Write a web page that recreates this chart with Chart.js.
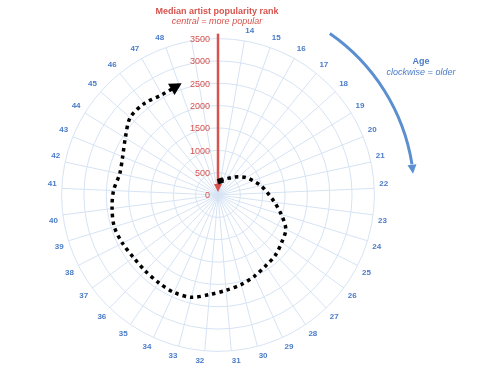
<!DOCTYPE html>
<html>
<head>
<meta charset="utf-8">
<script src="https://cdn.jsdelivr.net/npm/chart.js@4"></script>
<style>
  html, body { margin: 0; padding: 0; background: #fff; }
  #wrap { position: relative; width: 479px; height: 377px; }
</style>
</head>
<body>
<div id="wrap"><canvas id="chart-polar"></canvas></div>
<script>
// возраст по часовой стрелке, пустые метки сверху — зазор между 48 и 14
const ageLabels = ["", "14", "15", "16", "17", "18", "19", "20", "21", "22", "23", "24", "25",
  "26", "27", "28", "29", "30", "31", "32", "33", "34", "35", "36", "37", "38", "39", "40",
  "41", "42", "43", "44", "45", "46", "47", "48", ""];

// медианный ранг популярности артиста, возраст 14..48
const rankValues = [320, 375, 425, 505, 620, 740, 850, 985, 1110, 1275, 1480, 1700, 1775,
  1860, 1910, 1990, 2070, 2140, 2235, 2365, 2392, 2370, 2352, 2352, 2395, 2428, 2390,
  2340, 2250, 2300, 2435, 2620, 2630, 2570, 2615];

const rankTicks = [0, 500, 1000, 1500, 2000, 2500, 3000, 3500];

const RED = "#d6534e";
const BLUE = "#4a7cc8";
const ARROW_BLUE = "#5b8fd0";
const GRID = "#d6e3f4";
const FONT = '"Liberation Sans", Arial, Helvetica, sans-serif';

const ctx = document.getElementById("chart-polar").getContext("2d");

function arrowHead(c, x, y, angle, len, half, color) {
  c.save();
  c.translate(x, y);
  c.rotate(angle);
  c.fillStyle = color;
  c.beginPath();
  c.moveTo(0, 0);
  c.lineTo(-len, -half);
  c.lineTo(-len, half);
  c.closePath();
  c.fill();
  c.restore();
}

const decorations = {
  id: "decorations",
  beforeDatasetsDraw(chart) {
    const { ctx } = chart;
    const s = chart.scales.r;
    ctx.save();

    // красная стрелка к центру
    ctx.strokeStyle = RED;
    ctx.lineWidth = 2.5;
    ctx.beginPath();
    ctx.moveTo(s.xCenter, s.yCenter - s.drawingArea - 5);
    ctx.lineTo(s.xCenter, s.yCenter - 9);
    ctx.stroke();
    arrowHead(ctx, s.xCenter, s.yCenter - 3, Math.PI / 2, 8, 4, RED);

    // подписи рангов слева от стрелки
    ctx.font = "9px " + FONT;
    ctx.fillStyle = RED;
    ctx.textAlign = "right";
    ctx.textBaseline = "middle";
    rankTicks.forEach((v) => {
      const d = s.getDistanceFromCenterForValue(v);
      ctx.fillText(String(v), s.xCenter - 8, s.yCenter - d + 1);
    });

    // заголовок
    ctx.textAlign = "center";
    ctx.font = "bold 9px " + FONT;
    ctx.fillText("Median artist popularity rank", s.xCenter - 1, 12);
    ctx.font = "italic 9px " + FONT;
    ctx.fillText("central = more popular", s.xCenter - 1, 21);

    // синяя дуга "возраст"
    const R = s.drawingArea + 40;
    const a0 = (34.7 - 90) * Math.PI / 180;
    const a1 = (81 - 90) * Math.PI / 180;
    ctx.strokeStyle = ARROW_BLUE;
    ctx.lineWidth = 3;
    ctx.beginPath();
    ctx.arc(s.xCenter, s.yCenter, R, a0, a1);
    ctx.stroke();
    const tipA = (83.2 - 90) * Math.PI / 180;
    arrowHead(ctx, s.xCenter + R * Math.cos(tipA), s.yCenter + R * Math.sin(tipA) + 2,
      tipA + Math.PI / 2, 9, 4.5, ARROW_BLUE);

    ctx.fillStyle = BLUE;
    ctx.font = "bold 9px " + FONT;
    ctx.fillText("Age", 421, 62);
    ctx.font = "italic 9px " + FONT;
    ctx.fillText("clockwise = older", 421, 72);

    ctx.restore();
  },
  afterDatasetsDraw(chart) {
    // наконечник в конце пунктира
    const { ctx } = chart;
    const pts = chart.getDatasetMeta(0).data;
    const last = pts[ageLabels.length - 2];
    const dir = Math.atan2(last.y - last.cp1y, last.x - last.cp1x);
    arrowHead(ctx, last.x + 3 * Math.cos(dir), last.y + 3 * Math.sin(dir), dir, 12, 6.5, "#000");
  },
};

new Chart(ctx, {
  type: "radar",
  data: {
    labels: ageLabels,
    datasets: [
      {
        data: [null, ...rankValues, null],
        borderColor: "#000",
        borderWidth: 3.5,
        borderDash: [3.5, 4],
        borderCapStyle: "butt",
        fill: false,
        tension: 0.3,
        pointStyle: "rect",
        pointRotation: -20,
        pointBackgroundColor: "#000",
        pointBorderWidth: 0,
        pointRadius: (c) => (c.dataIndex === 1 ? 4 : 0),
        pointHoverRadius: 0,
      },
    ],
  },
  options: {
    responsive: true,
    maintainAspectRatio: false,
    animation: false,
    events: [],
    layout: { padding: { left: 47, right: 89, top: 24, bottom: 10 } },
    plugins: {
      legend: { display: false },
      tooltip: { enabled: false },
    },
    scales: {
      r: {
        min: 0,
        max: 3500,
        ticks: { stepSize: 500, display: false },
        grid: { circular: true, color: GRID, lineWidth: 1 },
        angleLines: { color: GRID, lineWidth: 1 },
        pointLabels: {
          color: BLUE,
          padding: 5,
          font: { size: 8, weight: "bold", family: FONT },
        },
      },
    },
  },
  plugins: [decorations],
});
</script>
</body>
</html>
